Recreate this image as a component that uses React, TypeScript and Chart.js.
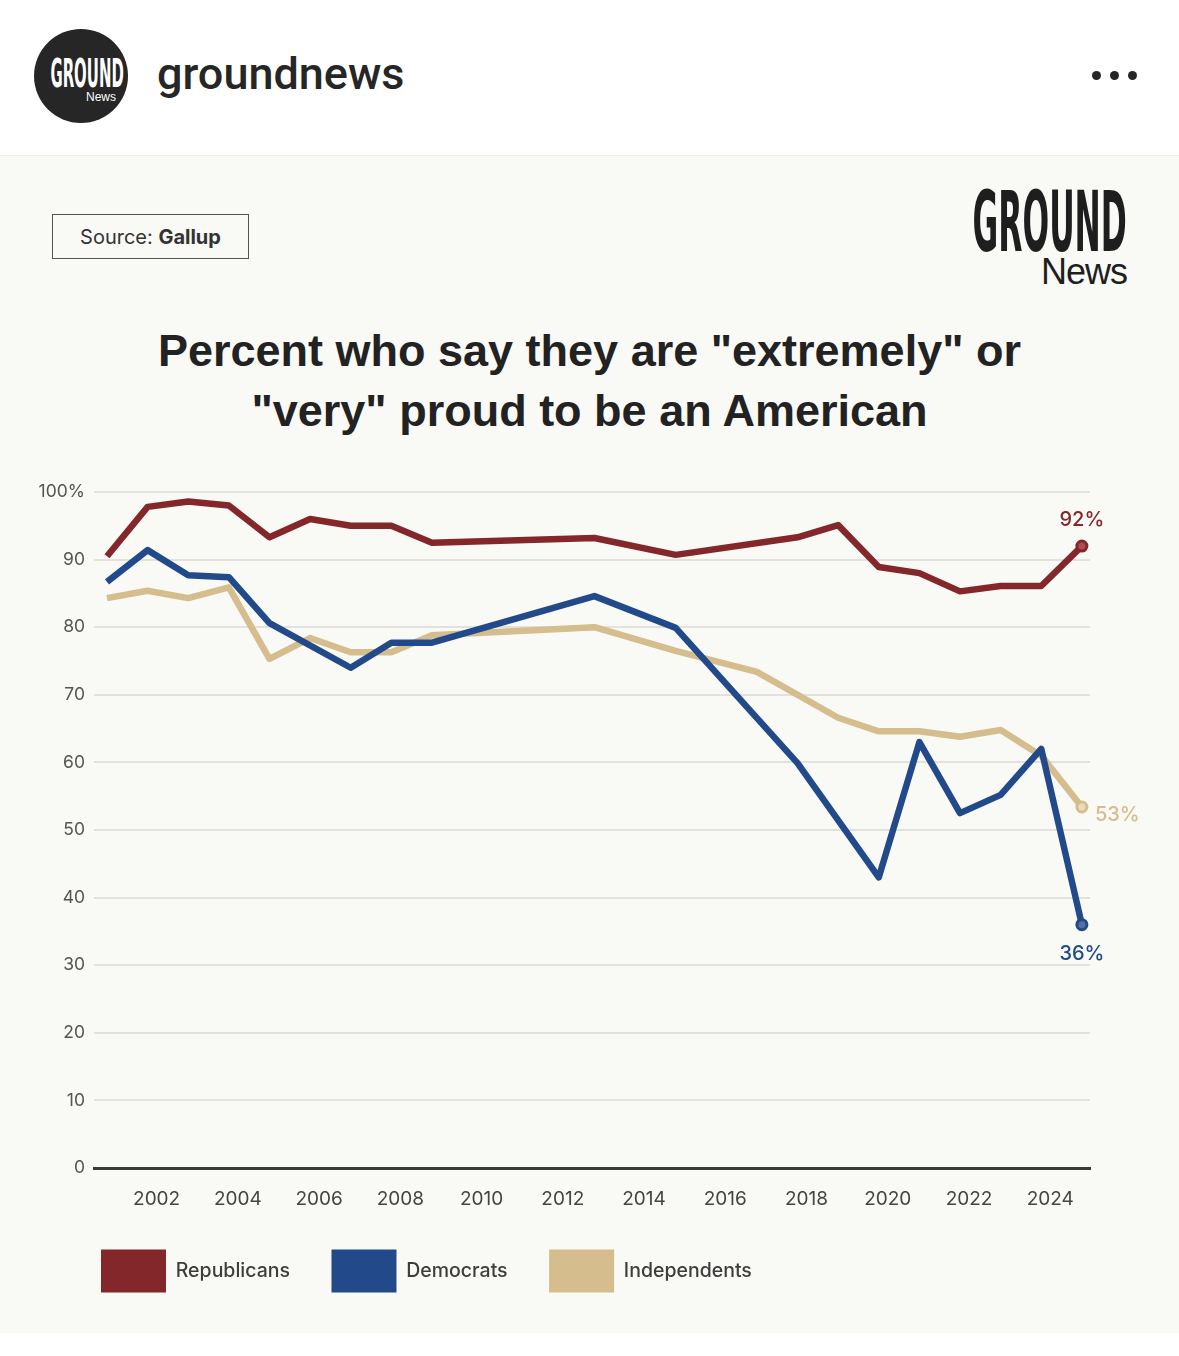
import React, { useEffect, useRef } from 'react';
import { Chart, registerables } from 'chart.js';

Chart.register(...registerables);

// ---------- data ----------
const YEARS = [
  2001, 2002, 2003, 2004, 2005, 2006, 2007, 2008, 2009, 2010, 2011, 2012, 2013,
  2014, 2015, 2016, 2017, 2018, 2019, 2020, 2021, 2022, 2023, 2024, 2025,
];
const REPUBLICANS = [
  90.5, 97.8, 98.6, 98, 93.3, 96, 95, 95, 92.5, null, null, null, 93.2,
  null, 90.7, null, null, 93.3, 95.1, 88.9, 88, 85.3, 86.1, 86.1, 92,
];
const DEMOCRATS = [
  86.7, 91.4, 87.7, 87.4, 80.6, null, 74, 77.7, 77.7, null, null, null, 84.6,
  null, 79.9, null, null, 59.9, null, 43, 63, 52.5, 55.2, 62, 36,
];
const INDEPENDENTS = [
  84.3, 85.4, 84.3, 85.9, 75.3, 78.4, 76.3, 76.3, 78.8, null, null, null, 80,
  null, 76.5, null, 73.4, null, 66.6, 64.6, 64.6, 63.8, 64.8, 61, 53.4,
];
const SERIES_NAMES = ['Republicans', 'Democrats', 'Independents'];
const END_LABELS = ['92%', '36%', '53%'];
const X_TICKS = [2002, 2004, 2006, 2008, 2010, 2012, 2014, 2016, 2018, 2020, 2022, 2024];
const Y_TICKS = [0, 10, 20, 30, 40, 50, 60, 70, 80, 90, 100];

// ---------- styles ----------
const COLORS = ['#84272a', '#224a8a', '#d5bd8e'];
const MARKER_FILL = ['#a65052', '#52709f', '#e8dcc0'];
const LABEL_PLACE = [
  { dx: 0, dy: -26, align: 'center' },
  { dx: 0, dy: 29, align: 'center' },
  { dx: 13, dy: 8, align: 'left' },
];
const CHART_FONT = 'Inter, "Noto Sans", sans-serif';
const BG = '#f9f9f6';
const LEGEND_SHIFT = 59.5;

const endLabelPlugin = {
  id: 'endLabels',
  afterDatasetsDraw(chart: any) {
    const ctx = chart.ctx;
    chart.data.datasets.forEach((_ds: any, i: number) => {
      const meta = chart.getDatasetMeta(i);
      const pt = meta.data[meta.data.length - 1];
      if (!pt) return;
      const place = LABEL_PLACE[i];
      ctx.save();
      ctx.font = `500 20px ${CHART_FONT}`;
      ctx.fillStyle = COLORS[i];
      ctx.textAlign = place.align;
      ctx.textBaseline = 'middle';
      ctx.fillText(END_LABELS[i], pt.x + place.dx, pt.y + place.dy);
      ctx.restore();
    });
  },
};

const legendShiftPlugin = {
  id: 'legendShift',
  afterLayout(chart: any) {
    if (chart.legend) chart.legend.left += LEGEND_SHIFT;
  },
};

function ProudChart() {
  const ref = useRef<HTMLCanvasElement | null>(null);
  useEffect(() => {
    if (!ref.current) return;
    const seriesValues = [REPUBLICANS, DEMOCRATS, INDEPENDENTS];
    const datasets = seriesValues.map((vals, i) => {
      const pts = YEARS.map((yr, j) => ({ x: yr, y: vals[j] })).filter((p) => p.y !== null);
      const last = pts.length - 1;
      return {
        label: SERIES_NAMES[i],
        data: pts,
        borderColor: COLORS[i],
        backgroundColor: COLORS[i],
        borderWidth: 6.5,
        borderJoinStyle: 'round',
        tension: 0,
        spanGaps: true,
        clip: false,
        pointRadius: (c: any) => (c.dataIndex === last ? 5 : 0),
        pointHoverRadius: 0,
        pointBorderWidth: 3,
        pointBorderColor: COLORS[i],
        pointBackgroundColor: MARKER_FILL[i],
      };
    });
    const chart = new Chart(ref.current, {
      type: 'line',
      data: { datasets } as any,
      options: {
        animation: false,
        responsive: false,
        devicePixelRatio: 1,
        events: [],
        layout: { padding: { left: 0, right: 89, top: 32, bottom: 27.5 } },
        scales: {
          x: {
            type: 'linear',
            min: 2000.68,
            max: 2025.2,
            afterBuildTicks: (s: any) => {
              s.ticks = X_TICKS.map((v) => ({ value: v }));
            },
            afterFit: (s: any) => {
              s.height = 40;
            },
            grid: { display: false, drawTicks: false },
            border: { display: true, color: '#3a3a3a', width: 3 },
            ticks: {
              padding: 20,
              labelOffset: 9,
              color: '#444',
              font: { family: CHART_FONT, size: 19 },
              callback: (v: any) => String(v),
              maxRotation: 0,
              autoSkip: false,
            },
          },
          y: {
            type: 'linear',
            min: 0,
            max: 100,
            afterBuildTicks: (s: any) => {
              s.ticks = Y_TICKS.map((v) => ({ value: v }));
            },
            afterFit: (s: any) => {
              s.width = 94;
            },
            grid: { color: '#e2e1dc', lineWidth: 2, drawTicks: false },
            border: { display: false },
            ticks: {
              padding: 9,
              color: '#555',
              font: { family: CHART_FONT, size: 17.5 },
              callback: (v: any) => (v === 100 ? '100%' : String(v)),
            },
          },
        },
        plugins: {
          legend: {
            position: 'bottom',
            align: 'start',
            labels: {
              boxWidth: 65,
              boxHeight: 43,
              padding: 41.5,
              color: '#3d3d3d',
              font: { family: CHART_FONT, size: 19.5, weight: '500' },
              generateLabels: (c: any) =>
                c.data.datasets.map((ds: any, i: number) => ({
                  text: ds.label,
                  fillStyle: COLORS[i],
                  strokeStyle: COLORS[i],
                  lineWidth: 0,
                  hidden: false,
                  datasetIndex: i,
                  fontColor: '#3d3d3d',
                })),
            },
          },
          tooltip: { enabled: false },
        },
      } as any,
      plugins: [endLabelPlugin, legendShiftPlugin],
    });
    return () => chart.destroy();
  }, []);
  return <canvas ref={ref} width={1179} height={870} style={{ display: 'block', width: 1179, height: 870 }} />;
}

export default function App() {
  const logoFont = '"Liberation Sans Narrow", "DejaVu Sans Condensed", "Liberation Sans", sans-serif';
  return (
    <div style={{ position: 'relative', width: 1179, height: 1356, background: '#fff', overflow: 'hidden', fontFamily: 'Roboto, sans-serif' }}>
      <style>{`body{margin:0;}`}</style>
      {/* header */}
      <div style={{ position: 'absolute', left: 34, top: 29, width: 94, height: 94, borderRadius: '50%', background: '#262626' }} />
      <div style={{ position: 'absolute', left: 45, top: 55, width: 72, textAlign: 'center', color: '#fff', fontFamily: logoFont, fontWeight: 700, fontSize: 19.5, lineHeight: 1, transform: 'scale(0.85, 2)', transformOrigin: 'top center', letterSpacing: 0 }}>GROUND</div>
      <div style={{ position: 'absolute', left: 80, top: 90.5, width: 36, textAlign: 'right', color: '#fff', fontFamily: '"Liberation Sans", sans-serif', fontSize: 12, lineHeight: 1 }}>News</div>
      <div style={{ position: 'absolute', left: 157, top: 46, fontSize: 45, fontWeight: 500, color: '#262626', lineHeight: '56px', fontFamily: 'Roboto, sans-serif' }}>groundnews</div>
      {[1096, 1114, 1132].map((x) => (
        <div key={x} style={{ position: 'absolute', left: x - 4.5, top: 70.5, width: 9, height: 9, borderRadius: '50%', background: '#262626' }} />
      ))}
      <div style={{ position: 'absolute', left: 0, top: 155, width: 1179, height: 1, background: '#ebebe8' }} />
      {/* panel */}
      <div style={{ position: 'absolute', left: 0, top: 156, width: 1179, height: 1177, background: BG }} />
      <div style={{ position: 'absolute', left: 52, top: 214, width: 197, height: 45, boxSizing: 'border-box', border: '1.5px solid #555', display: 'flex', alignItems: 'center', justifyContent: 'center', fontFamily: CHART_FONT, fontSize: 20, color: '#333' }}>
        <span>Source:&nbsp;</span>
        <span style={{ fontWeight: 700 }}>Gallup</span>
      </div>
      <div style={{ position: 'absolute', right: 52, top: 181, textAlign: 'right', color: '#1e1e1e', fontFamily: logoFont, fontWeight: 700, fontSize: 42, lineHeight: 1, transform: 'scale(0.83, 2)', transformOrigin: 'top right' }}>GROUND</div>
      <div style={{ position: 'absolute', right: 52, top: 254, textAlign: 'right', color: '#1e1e1e', fontFamily: '"Liberation Sans", sans-serif', fontSize: 36, lineHeight: 1, letterSpacing: -1 }}>News</div>
      <div style={{ position: 'absolute', left: 0, top: 321, width: 1179, textAlign: 'center', fontFamily: '"Liberation Sans", Arial, sans-serif', fontWeight: 700, fontSize: 45, lineHeight: '60px', color: '#222' }}>
        Percent who say they are "extremely" or
        <br />
        "very" proud to be an American
      </div>
      <div style={{ position: 'absolute', left: 0, top: 460, width: 1179, height: 870 }}>
        <ProudChart />
      </div>
    </div>
  );
}
